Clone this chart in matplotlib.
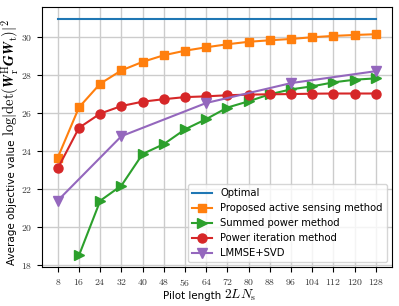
import matplotlib
matplotlib.use("Agg")
import matplotlib.pyplot as plt
from matplotlib.ticker import FuncFormatter

plt.rcParams['mathtext.fontset'] = 'cm'

# Pilot lengths 2 L N_s
pilot = [8, 16, 24, 32, 40, 48, 56, 64, 72, 80, 88, 96, 104, 112, 120, 128]

optimal = [30.97, 30.97, 30.97, 30.97, 30.97, 30.97, 30.97, 30.97,
           30.97, 30.97, 30.97, 30.97, 30.97, 30.97, 30.97, 30.97]
proposed = [23.65, 26.30, 27.55, 28.25, 28.70, 29.05, 29.29, 29.47,
            29.63, 29.76, 29.84, 29.91, 30.00, 30.07, 30.12, 30.16]
power_iter = [23.08, 25.22, 25.97, 26.37, 26.60, 26.73, 26.84, 26.88,
              26.94, 26.97, 26.99, 27.00, 27.02, 27.03, 27.03, 27.03]

summed_pilot = [16, 24, 32, 40, 48, 56, 64, 72, 80, 88, 96, 104, 112, 120, 128]
summed = [18.49, 21.37, 22.17, 23.84, 24.36, 25.14, 25.68, 26.29,
          26.62, 26.99, 27.25, 27.41, 27.62, 27.76, 27.83]

lmmse_pilot = [8, 32, 64, 96, 128]
lmmse = [21.38, 24.78, 26.53, 27.58, 28.21]

fig = plt.figure(figsize=(3.99, 3.06), dpi=100)
ax = fig.add_axes([0.105, 0.127, 0.877, 0.85])

ax.plot(pilot, optimal, color='C0', lw=1.5, label='Optimal')
ax.plot(pilot, proposed, color='C1', marker='s', ms=6, lw=1.5,
        label='Proposed active sensing method')
ax.plot(summed_pilot, summed, color='C2', marker='>', ms=7, lw=1.5,
        label='Summed power method')
ax.plot(pilot, power_iter, color='C3', marker='o', ms=6.5, lw=1.5,
        label='Power iteration method')
ax.plot(lmmse_pilot, lmmse, color='C4', marker='v', ms=7, lw=1.5,
        label='LMMSE+SVD')

ax.set_xticks(pilot)
ax.set_yticks([18, 20, 22, 24, 26, 28, 30])
fmt = FuncFormatter(lambda v, p: r'$%d$' % v)
ax.xaxis.set_major_formatter(fmt)
ax.yaxis.set_major_formatter(fmt)
ax.tick_params(labelsize=7, labelcolor='#333333')
ax.grid(True, color='#cccccc', lw=1)
ax.set_axisbelow(True)

# axis labels: text part in sans, math part a bit larger (like the usetex original)
W, H = 399.0, 306.0
fig.text(221 / W, 1 - 299 / H, 'Pilot length', fontsize=7.4,
         ha='right', va='baseline')
fig.text(223.5 / W, 1 - 299 / H, r'$2LN_\mathrm{s}$', fontsize=9.8,
         ha='left', va='baseline')

fig.text(15.5 / W, 1 - 139.5 / H, 'Average objective value', fontsize=7.5,
         rotation=90, rotation_mode='anchor', ha='right', va='baseline')
fig.text(14.5 / W, 1 - 136.5 / H,
         r'$\log|\det(\boldsymbol{W}_\mathrm{r}^\mathrm{H}'
         r'\boldsymbol{G}\boldsymbol{W}_\mathrm{t})|^2$', fontsize=10.5,
         rotation=90, rotation_mode='anchor', ha='left', va='baseline')

ax.legend(loc='lower right', fontsize=7.2)

fig.savefig('out.png', dpi=100)
